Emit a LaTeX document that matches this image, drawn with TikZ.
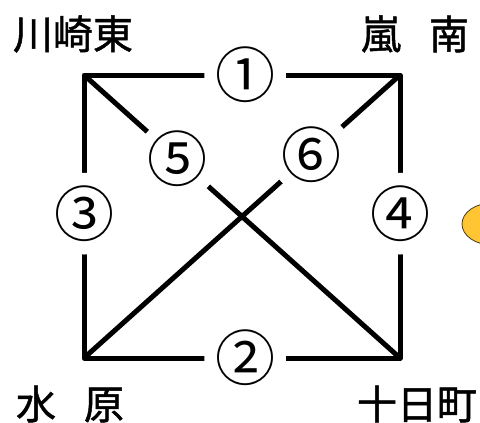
\documentclass[tikz,border=0pt]{standalone}
\usepackage{fontspec}
\newfontfamily\jpfont{Noto Sans CJK JP}
\newfontfamily\jpmed{Noto Sans CJK JP}[FakeBold=1.2]
\definecolor{leaf}{HTML}{FFC532}
\definecolor{leafline}{HTML}{3A3A3A}
\begin{document}
\begin{tikzpicture}[x=1pt,y=-1pt,
    road/.style={line width=5pt,line join=round},
    num/.style={circle,fill=white,inner sep=0pt,font=\jpfont\fontsize{60}{60}\selectfont},
    town/.style={font=\jpmed\fontsize{40}{40}\selectfont,inner sep=0pt}]
    \useasboundingbox (0,0) rectangle (480,423);
    % corners of the square
    \coordinate (kawa) at (84,75);
    \coordinate (ara) at (400,75);
    \coordinate (mizu) at (84,358);
    \coordinate (toka) at (400,358);
    \draw[road] (kawa) -- (ara) -- (toka) -- (mizu) -- cycle;
    \draw[road] (kawa) -- (toka);
    \draw[road] (mizu) -- (ara);
    % numbered roads
    \path (kawa) -- (ara) node[num,pos=0.51] (n1) {①};
    \path (mizu) -- (toka) node[num,pos=0.51] (n2) {②};
    \path (kawa) -- (mizu) node[num,pos=0.49] (n3) {③};
    \path (ara) -- (toka) node[num,pos=0.49] (n4) {④};
    \path (kawa) -- (toka) node[num,pos=0.297] (n5) {⑤};
    \path (mizu) -- (ara) node[num,pos=0.72] (n6) {⑥};
    % town names
    \node[town] (tkawa) at (73,34) {川崎東};
    \node[town] (tara) at (415,34) {嵐\hspace{0.7em}南};
    \node[town] (tmizu) at (70,404) {水\hspace{0.7em}原};
    \node[town] (ttoka) at (417,404) {十日町};
    \filldraw[fill=leaf,draw=leafline,line width=0.8pt] (492,224) ellipse [x radius=30,y radius=21];
\end{tikzpicture}
\end{document}
